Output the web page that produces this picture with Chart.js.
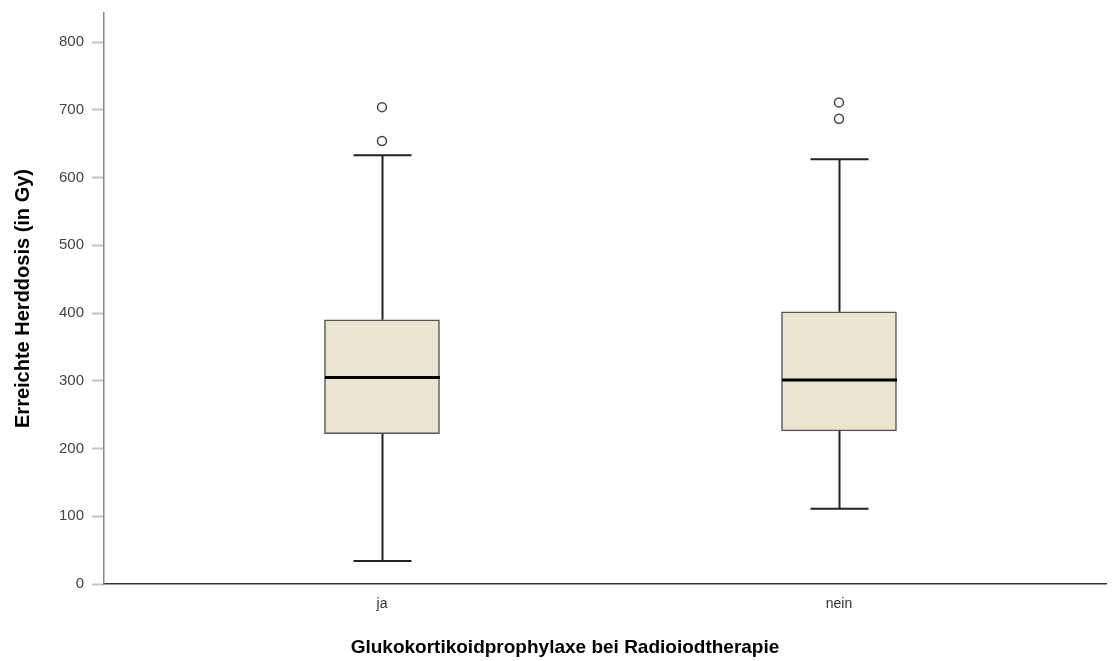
<!DOCTYPE html>
<html>
<head>
<meta charset="utf-8">
<script src="https://cdn.jsdelivr.net/npm/chart.js@4"></script>
<style>
  html, body { margin: 0; padding: 0; background: #fff; }
  #wrap { width: 1112px; height: 661px; }
</style>
</head>
<body>
<div id="wrap"><canvas id="myChart" width="1112" height="661"></canvas></div>
<script>
// groups on the x axis (placed at x = 1, 2)
const groups = ['ja', 'nein'];
const groupPos = [1, 2];
// box plot statistics
const whiskerLow = [34, 111];
const q1 = [222, 226];
const median = [305, 301];
const q3 = [390, 402];
const whiskerHigh = [633, 627];
const outliers = [[654, 704], [687, 711]];
const yTicks = [0, 100, 200, 300, 400, 500, 600, 700, 800];

const boxData = groupPos.map((x, i) => ({ x: x, y: [q1[i], q3[i]] }));
const outlierData = [];
outliers.forEach((list, i) => list.forEach(v => outlierData.push({ x: groupPos[i], y: v })));

// whiskers, caps and median lines
const boxPlugin = {
    id: 'boxWhiskers',
    afterDatasetsDraw(chart) {
        const xs = chart.scales.x, ys = chart.scales.y, ctx = chart.ctx;
        const capHalf = 29, boxHalf = 57.5;
        ctx.save();
        groupPos.forEach((g, i) => {
            const cx = Math.round(xs.getPixelForValue(g)) + 0.5;
            ctx.strokeStyle = '#222';
            ctx.lineWidth = 2;
            ctx.beginPath();
            ctx.moveTo(cx, ys.getPixelForValue(q1[i]));
            ctx.lineTo(cx, ys.getPixelForValue(whiskerLow[i]));
            ctx.moveTo(cx, ys.getPixelForValue(q3[i]));
            ctx.lineTo(cx, ys.getPixelForValue(whiskerHigh[i]));
            ctx.moveTo(cx - capHalf, ys.getPixelForValue(whiskerLow[i]));
            ctx.lineTo(cx + capHalf, ys.getPixelForValue(whiskerLow[i]));
            ctx.moveTo(cx - capHalf, ys.getPixelForValue(whiskerHigh[i]));
            ctx.lineTo(cx + capHalf, ys.getPixelForValue(whiskerHigh[i]));
            ctx.stroke();
            ctx.strokeStyle = '#000';
            ctx.lineWidth = 3;
            ctx.beginPath();
            ctx.moveTo(cx - boxHalf, ys.getPixelForValue(median[i]));
            ctx.lineTo(cx + boxHalf, ys.getPixelForValue(median[i]));
            ctx.stroke();
        });
        ctx.restore();
    }
};

var ctx = document.getElementById('myChart');
var myChart = new Chart(ctx, {
    type: 'bar',
    data: {
        datasets: [{
            type: 'bar',
            data: boxData,
            backgroundColor: '#EAE4D1',
            borderColor: '#555',
            borderWidth: 1.5,
            borderSkipped: false,
            barThickness: 115
        }, {
            type: 'scatter',
            data: outlierData,
            pointStyle: 'circle',
            pointRadius: 4.5,
            pointBackgroundColor: '#fff',
            pointBorderColor: '#444',
            pointBorderWidth: 1.5
        }]
    },
    options: {
        responsive: false,
        animation: false,
        layout: { padding: { top: 13, left: 0, right: -18, bottom: 0 } },
        plugins: {
            legend: { display: false },
            tooltip: { enabled: false },
            title: {
                display: true,
                position: 'bottom',
                text: 'Glukokortikoidprophylaxe bei Radioiodtherapie',
                color: '#000',
                font: { family: 'Liberation Sans', size: 19, weight: 'bold' },
                padding: { top: 0, bottom: 1.5 }
            }
        },
        scales: {
            x: {
                type: 'linear',
                offset: false,
                min: 0.3917,
                max: 2.5843,
                afterBuildTicks: s => { s.ticks = groupPos.map(v => ({ value: v })); },
                afterFit: s => { s.height = 52.7; s.paddingLeft = 0; s.paddingRight = 0; },
                grid: { display: false, offset: false },
                border: { color: '#333', width: 1.5 },
                ticks: {
                    callback: v => groups[groupPos.indexOf(v)],
                    color: '#333',
                    padding: 4,
                    font: { family: 'Liberation Sans', size: 14 }
                }
            },
            y: {
                min: 0,
                max: 843,
                afterBuildTicks: s => { s.ticks = yTicks.map(v => ({ value: v })); },
                afterFit: s => { s.width = 104; s.paddingTop = 0; s.paddingBottom = 0; },
                grid: { drawOnChartArea: false, tickLength: 12, tickColor: '#c4c4c4', tickWidth: 2 },
                border: { color: '#888', width: 1.5 },
                ticks: {
                    color: '#444',
                    padding: 8,
                    font: { family: 'Liberation Sans', size: 15 }
                },
                title: {
                    display: true,
                    text: 'Erreichte Herddosis (in Gy)',
                    color: '#000',
                    padding: { top: 11, bottom: 0 },
                    font: { family: 'Liberation Sans', size: 20, weight: 'bold' }
                }
            }
        }
    },
    plugins: [boxPlugin]
});
</script>
</body>
</html>
